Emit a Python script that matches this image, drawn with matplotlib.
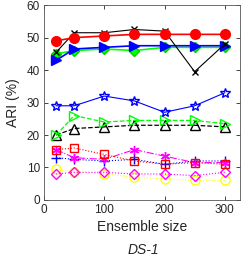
import matplotlib
matplotlib.use("Agg")
import matplotlib.pyplot as plt

plt.rcParams["font.family"] = ["Liberation Sans", "DejaVu Sans"]

# アンサンブルサイズ
sizes = [20, 50, 100, 150, 200, 250, 300]

red_circle = [49, 50, 50.5, 51, 51, 51, 51]
black_x = [45.5, 51.5, 51.5, 52.5, 52, 39.5, 48]
green_diamond = [45, 46, 46.5, 46, 47, 47, 47]
blue_tri = [43, 46.5, 47, 47.5, 47.5, 47.5, 47.5]
blue_star = [29, 29, 32, 30.5, 27, 29, 33]
green_tri = [20, 26, 24, 24.5, 24.5, 24.5, 23.5]
black_tri = [20, 22, 22.5, 23, 23, 23, 22.5]
red_square = [15.5, 16, 14, 12, 11, 11.5, 11]
magenta_ast = [15.5, 13, 12.5, 15.5, 13.5, 11.5, 11.5]
blue_plus = [13, 12.5, 12, 12.5, 11, 12, 12]
magenta_diamond = [8, 8.5, 8.5, 8, 8, 7.5, 8.5]
yellow_circle = [9.5, 8.5, 8, 7, 6.5, 6, 6]

fig = plt.figure(figsize=(2.41, 2.57), dpi=100)
ax = fig.add_axes([0.183, 0.222, 0.812, 0.758])

ms = 6.5
asterisk = (6, 2, 0)
# 下の層から描く
ax.plot(sizes, yellow_circle, ":", color="yellow", marker="o", mfc="none", ms=ms, lw=0.8)
ax.plot(sizes, magenta_diamond, ":", color="magenta", marker="D", mfc="none", ms=5, lw=0.8)
ax.plot(sizes, blue_plus, ":", color="blue", marker="+", ms=ms, lw=0.8)
ax.plot(sizes, magenta_ast, "-.", color="magenta", marker=asterisk, ms=ms, lw=0.8)
ax.plot(sizes, red_square, ":", color="red", marker="s", mfc="none", ms=5.5, lw=0.8)
ax.plot(sizes, black_tri, "--", color="black", marker="^", mfc="none", ms=ms, lw=0.9)
ax.plot(sizes, green_tri, "--", color="#00ff00", marker=">", mfc="none", ms=ms, lw=0.9)
ax.plot(sizes, blue_star, "-", color="blue", marker="*", mfc="none", ms=7.5, lw=0.8)
ax.plot(sizes, green_diamond, "-", color="#00ff00", marker="D", ms=5, lw=1.2, mec="#00cc00")
ax.plot(sizes, blue_tri, "-", color="blue", marker=">", ms=7, lw=1.2)
ax.plot(sizes, black_x, "-", color="black", marker="x", ms=4.5, lw=0.8)
ax.plot(sizes, red_circle, "-", color="red", marker="o", ms=7, lw=1.2)

ax.set_xlim(0, 325)
ax.set_ylim(0, 60)
ax.set_xticks([0, 100, 200, 300])
ax.set_yticks([0, 10, 20, 30, 40, 50, 60])
ax.tick_params(direction="in", top=True, right=True, labelsize=8.5,
               colors="#262626", length=3, width=0.6, pad=3)
for s in ax.spines.values():
    s.set_color("#555555")
    s.set_linewidth(0.6)
ax.set_xlabel("Ensemble size", fontsize=10, color="#262626", labelpad=3)
ax.set_ylabel("ARI (%)", fontsize=10, color="#262626", labelpad=5)
fig.text(0.595, 0.0, "DS-1", fontsize=10, style="italic", ha="center", va="bottom", color="#262626")

plt.savefig("out.png", dpi=100)
